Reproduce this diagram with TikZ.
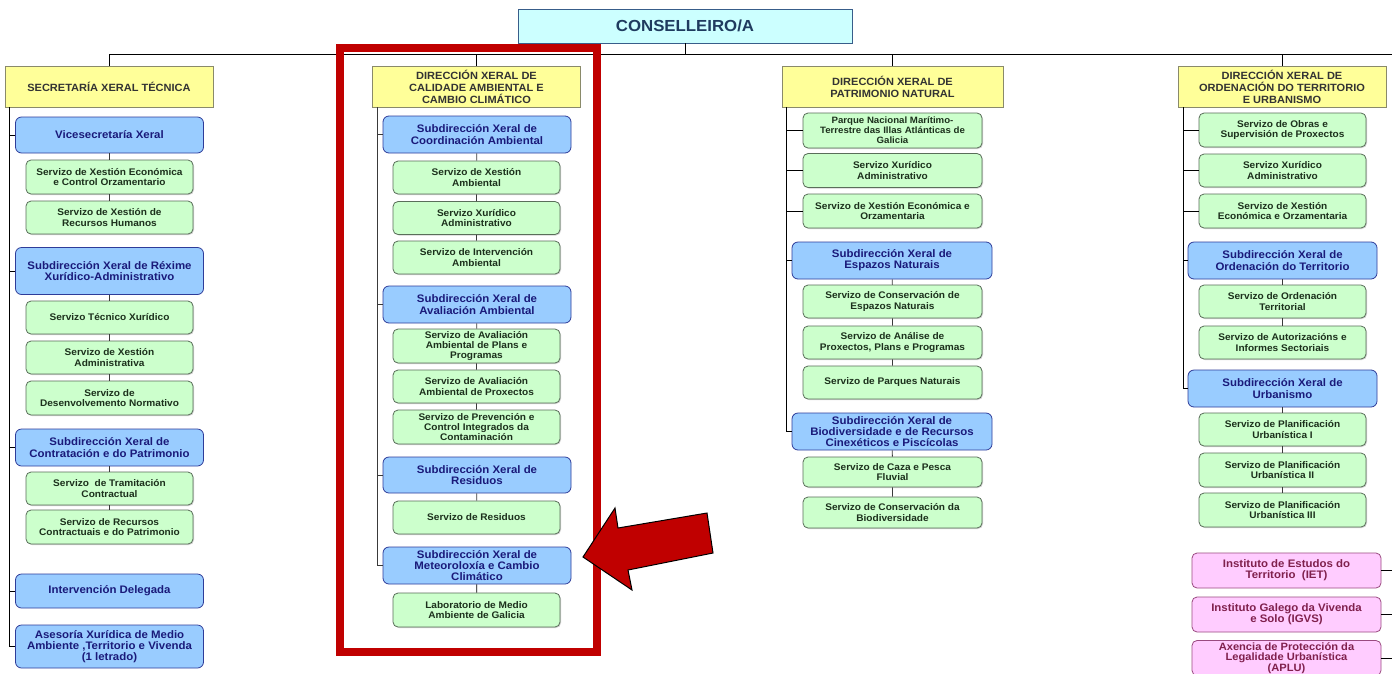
\documentclass[tikz,border=0pt]{standalone}
\usepackage{fontspec}
\setmainfont{Liberation Sans}[FakeStretch=1.05]
\usetikzlibrary{shadows}
\definecolor{gfill}{HTML}{CCFFCC}
\definecolor{gline}{HTML}{5A6E5A}
\definecolor{gtext}{HTML}{1C301C}
\definecolor{bfill}{HTML}{99CCFF}
\definecolor{bline}{HTML}{2E3C99}
\definecolor{btext}{HTML}{1A1A7A}
\definecolor{yfill}{HTML}{FFFF99}
\definecolor{yline}{HTML}{8A8A6A}
\definecolor{ytext}{HTML}{333333}
\definecolor{cfill}{HTML}{CCFFFF}
\definecolor{cline}{HTML}{385D8A}
\definecolor{ctext}{HTML}{1F3B5F}
\definecolor{pfill}{HTML}{FFCCFF}
\definecolor{pline}{HTML}{9A4A80}
\definecolor{ptext}{HTML}{80204D}
\definecolor{redframe}{HTML}{C00000}
\definecolor{conn}{HTML}{3A3A3A}
\tikzset{
  box/.style={inner sep=0pt, align=center},
  gbox/.style={box, draw=gline, fill=gfill, line width=0.8pt, rounded corners=5pt,
    minimum width=167pt, minimum height=33pt, text=gtext,
    font=\bfseries\fontsize{9.6}{10.2}\selectfont,
    drop shadow={shadow xshift=1pt, shadow yshift=-1pt, opacity=0.35}},
  bbox/.style={box, draw=bline, fill=bfill, line width=0.8pt, rounded corners=6pt,
    minimum width=188pt, minimum height=37pt, text=btext,
    font=\bfseries\fontsize{10.9}{11.2}\selectfont},
  ybox/.style={box, draw=yline, fill=yfill, line width=0.8pt,
    minimum width=208pt, minimum height=41pt, text=ytext,
    font=\bfseries\fontsize{10.5}{12}\selectfont},
  pbox/.style={box, draw=pline, fill=pfill, line width=0.8pt, rounded corners=5pt,
    minimum width=189pt, minimum height=35pt, text=ptext,
    font=\bfseries\fontsize{10.9}{11.2}\selectfont},
  cbox/.style={box, draw=cline, fill=cfill, line width=0.8pt,
    minimum width=334pt, minimum height=34pt, text=ctext,
    font=\bfseries\fontsize{16}{18}\selectfont},
  link/.style={draw=conn, line width=0.9pt},
  mainlink/.style={draw=black, line width=0.9pt},
}
\begin{document}
\begin{tikzpicture}[x=1pt,y=-1pt]
\useasboundingbox[fill=white] (0,0) rectangle (1392,673);

% top
\node[cbox] (cons) at (685,26) {CONSELLEIRO/A};
\node[ybox] (dx1) at (109,86.5) {SECRETARÍA XERAL TÉCNICA};
\node[ybox] (dx2) at (476.5,86.5) {DIRECCIÓN XERAL DE\\CALIDADE AMBIENTAL E\\CAMBIO CLIMÁTICO};
\node[ybox, minimum width=221pt] (dx3) at (892.5,86.5) {DIRECCIÓN XERAL DE\\PATRIMONIO NATURAL};
\node[ybox] (dx4) at (1282,86.5) {DIRECCIÓN XERAL DE\\ORDENACIÓN DO TERRITORIO\\E URBANISMO};

\coordinate (busR) at (1392,54);
\draw[mainlink] (cons.south) -- (cons.south |- busR);
\draw[mainlink] (dx1.north) |- (busR);
\draw[mainlink] (dx2.north) -- (dx2.north |- busR);
\draw[mainlink] (dx3.north) -- (dx3.north |- busR);
\draw[mainlink] (dx4.north) -- (dx4.north |- busR);

% column 1
\node[bbox, minimum height=36pt] (vice) at (109.5,135) {Vicesecretaría Xeral};
\node[gbox, minimum height=34pt] (c1a) at (109.5,177) {Servizo de Xestión Económica\\e Control Orzamentario};
\node[gbox] (c1b) at (109.5,217.5) {Servizo de Xestión de\\Recursos Humanos};
\node[bbox, minimum height=47pt] (rex) at (109.5,271) {Subdirección Xeral de Réxime\\Xurídico-Administrativo};
\node[gbox] (c1c) at (109.5,317.5) {Servizo Técnico Xurídico};
\node[gbox] (c1d) at (109.5,357.5) {Servizo de Xestión\\Administrativa};
\node[gbox, minimum height=34pt] (c1e) at (109.5,398) {Servizo de\\Desenvolvemento Normativo};
\node[bbox] (con) at (109.5,447.5) {Subdirección Xeral de\\Contratación e do Patrimonio};
\node[gbox] (c1f) at (109.5,488.5) {Servizo\ \ de Tramitación\\Contractual};
\node[gbox, minimum height=34pt] (c1g) at (109.5,527) {Servizo de Recursos\\Contractuais e do Patrimonio};
\node[bbox, minimum height=34pt] (int) at (109.5,591) {Intervención Delegada};
\node[bbox, minimum height=43pt] (ase) at (109.5,646.5) {Asesoría Xurídica de Medio\\Ambiente ,Territorio e Vivenda\\(1 letrado)};

\coordinate (sp1) at (9,107);
\draw[mainlink] (sp1) |- (ase.west);
\foreach \n in {vice,rex,con,int} \draw[mainlink] (\n.west) -- (\n.west -| sp1);
\draw[link] (vice) -- (c1a) (c1a) -- (c1b);
\draw[link] (rex) -- (c1c) (c1c) -- (c1d) (c1d) -- (c1e);
\draw[link] (con) -- (c1f) (c1f) -- (c1g);

% column 2
\node[bbox] (coo) at (477,134.5) {Subdirección Xeral de\\Coordinación Ambiental};
\node[gbox] (c2a) at (476.5,177.5) {Servizo de Xestión\\Ambiental};
\node[gbox] (c2b) at (476.5,218) {Servizo Xurídico\\Administrativo};
\node[gbox] (c2c) at (476.5,257.5) {Servizo de Intervención\\Ambiental};
\node[bbox] (ava) at (477,304.5) {Subdirección Xeral de\\Avaliación Ambiental};
\node[gbox, minimum height=34pt] (c2d) at (476.5,346) {Servizo de Avaliación\\Ambiental de Plans e\\Programas};
\node[gbox] (c2e) at (476.5,386.5) {Servizo de Avaliación\\Ambiental de Proxectos};
\node[gbox, minimum height=34pt] (c2f) at (476.5,427) {Servizo de Prevención e\\Control Integrados da\\Contaminación};
\node[bbox, minimum height=36pt] (res) at (477,475) {Subdirección Xeral de\\Residuos};
\node[gbox] (c2g) at (476.5,517.5) {Servizo de Residuos};
\node[bbox] (met) at (477,565.5) {Subdirección Xeral de\\Meteoroloxía e Cambio\\Climático};
\node[gbox, minimum height=34pt] (c2h) at (476.5,610) {Laboratorio de Medio\\Ambiente de Galicia};

\coordinate (sp2) at (377,107);
\draw[link] (sp2) |- (met.west);
\foreach \n in {coo,ava,res} \draw[link] (\n.west) -- (\n.west -| sp2);
\draw[link] (coo) -- (c2a) (c2a) -- (c2b) (c2b) -- (c2c);
\draw[link] (ava) -- (c2d) (c2d) -- (c2e) (c2e) -- (c2f);
\draw[link] (res) -- (c2g);
\draw[mainlink] (met) -- (c2h);

% column 3
\node[gbox, minimum width=179pt, minimum height=35pt, font=\bfseries\fontsize{9.2}{10}\selectfont] (c3a) at (892.5,130.5) {Parque Nacional Marítimo-\\Terrestre das Illas Atlánticas de\\Galicia};
\node[gbox, minimum width=179pt, minimum height=34pt] (c3b) at (892.5,170.5) {Servizo Xurídico\\Administrativo};
\node[gbox, minimum width=179pt, minimum height=34pt] (c3c) at (892.5,211) {Servizo de Xestión Económica e\\Orzamentaria};
\node[bbox, minimum width=200pt] (esp) at (892,260.5) {Subdirección Xeral de\\Espazos Naturais};
\node[gbox, minimum width=179pt] (c3d) at (892.5,301.5) {Servizo de Conservación de\\Espazos Naturais};
\node[gbox, minimum width=179pt] (c3e) at (892.5,342.5) {Servizo de Análise de\\Proxectos, Plans e Programas};
\node[gbox, minimum width=179pt] (c3f) at (892.5,382.5) {Servizo de Parques Naturais};
\node[bbox, minimum width=200pt] (bio) at (892,431.5) {Subdirección Xeral de\\Biodiversidade e de Recursos\\Cinexéticos e Piscícolas};
\node[gbox, minimum width=179pt, minimum height=30pt] (c3g) at (892.5,472) {Servizo de Caza e Pesca\\Fluvial};
\node[gbox, minimum width=179pt, minimum height=31pt] (c3h) at (892.5,512.5) {Servizo de Conservación da\\Biodiversidade};

\coordinate (sp3) at (786,107);
\draw[mainlink] (sp3) |- (bio.west);
\foreach \n in {c3a,c3b,c3c,esp} \draw[mainlink] (\n.west) -- (\n.west -| sp3);
\draw[link] (esp) -- (c3d) (c3d) -- (c3e) (c3e) -- (c3f);
\draw[link] (bio) -- (c3g) (c3g) -- (c3h);

% column 4
\node[gbox, minimum height=34pt] (c4a) at (1282.5,130) {Servizo de Obras e\\Supervisión de Proxectos};
\node[gbox] (c4b) at (1282.5,170.5) {Servizo Xurídico\\Administrativo};
\node[gbox, minimum height=34pt] (c4c) at (1282.5,211) {Servizo de Xestión\\Económica e Orzamentaria};
\node[bbox, minimum width=189pt] (ord) at (1282.5,260.5) {Subdirección Xeral de\\Ordenación do Territorio};
\node[gbox] (c4d) at (1282.5,301.5) {Servizo de Ordenación\\Territorial};
\node[gbox] (c4e) at (1282.5,342.5) {Servizo de Autorizacións e\\Informes Sectoriais};
\node[bbox, minimum width=189pt] (urb) at (1282.5,388.5) {Subdirección Xeral de\\Urbanismo};
\node[gbox] (c4f) at (1282.5,429.5) {Servizo de Planificación\\Urbanística I};
\node[gbox, minimum height=34pt] (c4g) at (1282.5,470) {Servizo de Planificación\\Urbanística II};
\node[gbox, minimum height=34pt] (c4h) at (1282.5,510) {Servizo de Planificación\\Urbanística III};

\coordinate (sp4) at (1183,107);
\draw[mainlink] (sp4) |- (urb.west);
\foreach \n in {c4a,c4b,c4c,ord} \draw[mainlink] (\n.west) -- (\n.west -| sp4);
\draw[link] (ord) -- (c4d) (c4d) -- (c4e);
\draw[link] (urb) -- (c4f) (c4f) -- (c4g) (c4g) -- (c4h);

% pink agencies
\node[pbox] (iet) at (1286.5,570.5) {Instituto de Estudos do\\Territorio\ \ (IET)};
\node[pbox] (igv) at (1286.5,614.5) {Instituto Galego da Vivenda\\e Solo (IGVS)};
\node[pbox, font=\bfseries\fontsize{10.6}{10.4}\selectfont] (apl) at (1286.5,658) {Axencia de Protección da\\Legalidade Urbanística\\(APLU)};
\coordinate (edge) at (1392,0);
\foreach \n in {iet,igv,apl} \draw[mainlink] (\n.east) -- (\n.east -| edge);

% red highlight frame
\draw[draw=redframe, line width=8pt] (340,47.5) rectangle (597,652);

% red arrow
\draw[fill=redframe, draw=black, line width=1pt, line join=miter]
  (583,557) -- (615,508) -- (618,528) -- (707,513) -- (713,553) -- (628,570) -- (632,590) -- cycle;
\end{tikzpicture}
\end{document}
